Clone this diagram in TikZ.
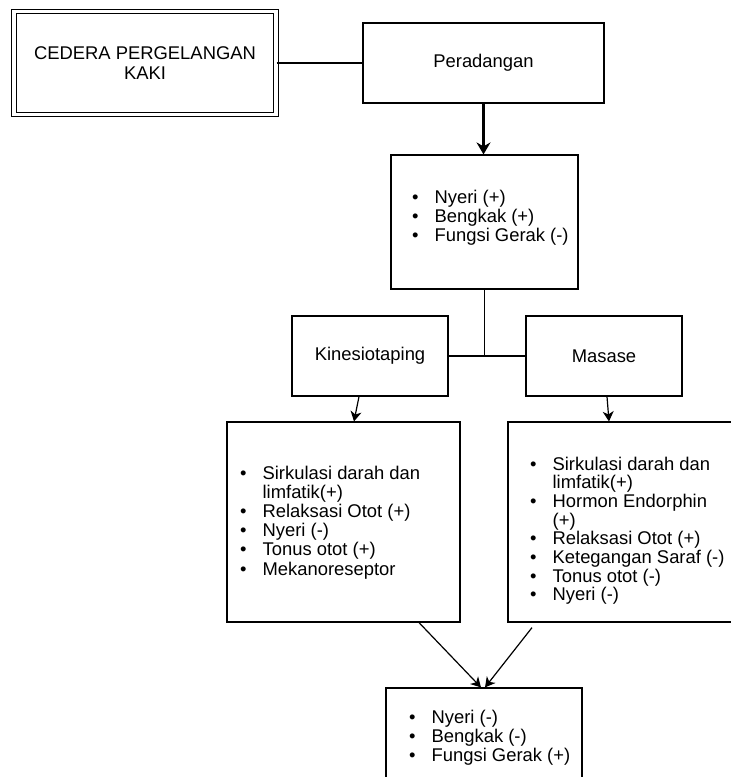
\documentclass[tikz,border=0pt]{standalone}
\usepackage{fontspec}
\setmainfont{Liberation Sans}
\usetikzlibrary{arrows.meta}

\newcommand{\bulletlist}[1]{\begin{tabular}[t]{@{}l@{\hspace{16pt}}l@{}}#1\end{tabular}}

\begin{document}
\begin{tikzpicture}
  [x=1pt,y=-1pt,
   every node/.style={font=\fontsize{18.4}{19.2}\selectfont},
   box/.style={draw=black,line width=1.2pt,rectangle,inner sep=0pt},
   listtext/.style={anchor=base west,inner sep=0pt},
   conn/.style={draw=black,line width=1.2pt},
   arrow/.style={conn,-{Stealth[length=10pt,width=11pt,inset=3pt]}}]

  \useasboundingbox (0,0) rectangle (731,777);
  \clip (0,0) rectangle (731,777);

  \node [box,double,double distance=3.3pt,line width=1pt,minimum width=262pt,
         minimum height=103.4pt,align=center] (cedera) at (145,63)
        {CEDERA PERGELANGAN\\KAKI};
  \node [box,minimum width=241pt,minimum height=80pt] (peradangan) at (483.5,63) {Peradangan};

  \node [box,minimum width=187pt,minimum height=134pt] (gejala) at (484.5,222) {};
  \node [listtext] (gejala-list) at (412,203)
        {\bulletlist{\textbullet & Nyeri (+)\\
                     \textbullet & Bengkak (+)\\
                     \textbullet & Fungsi Gerak (-)}};

  \node [box,minimum width=156pt,minimum height=80pt] (kinesio) at (370,356) {Kinesiotaping};
  \node [box,minimum width=156pt,minimum height=80pt] (masase) at (604,356) {Masase};

  \node [box,minimum width=233pt,minimum height=200pt] (efekkt) at (343.5,522) {};
  \node [listtext] (efekkt-list) at (240,479)
        {\bulletlist{\textbullet & Sirkulasi darah dan\\
                                 & limfatik(+)\\
                     \textbullet & Relaksasi Otot (+)\\
                     \textbullet & Nyeri (-)\\
                     \textbullet & Tonus otot (+)\\
                     \textbullet & Mekanoreseptor}};

  \node [box,minimum width=234pt,minimum height=200pt] (efekms) at (625,522) {};
  \node [listtext,font=\fontsize{18.4}{17.9}\selectfont] (efekms-list) at (530,470)
        {\bulletlist{\textbullet & Sirkulasi darah dan\\
                                 & limfatik(+)\\
                     \textbullet & Hormon Endorphin\\
                                 & (+)\\
                     \textbullet & Relaksasi Otot (+)\\
                     \textbullet & Ketegangan Saraf (-)\\
                     \textbullet & Tonus otot (-)\\
                     \textbullet & Nyeri (-)}};

  \node [box,minimum width=196pt,minimum height=134pt] (hasil) at (484,755) {};
  \node [listtext] (hasil-list) at (409,723)
        {\bulletlist{\textbullet & Nyeri (-)\\
                     \textbullet & Bengkak (-)\\
                     \textbullet & Fungsi Gerak (+)}};

  % connectors
  \draw [conn] (cedera) -- (peradangan);
  \draw [conn,line width=2.2pt,-{Stealth[length=12pt,width=14pt,inset=4pt]}]
        (peradangan.south) -- (peradangan.south |- gejala.north);
  \coordinate (split) at (gejala.south |- kinesio.east);
  \draw [conn] (gejala.south) -- (split);
  \draw [conn] (kinesio) -- (masase);

  \draw [arrow] ([xshift=-11pt]kinesio.south) -- ([xshift=10.5pt]efekkt.north);
  \draw [arrow] ([xshift=3pt]masase.south) -- ([xshift=-16pt]efekms.north);
  \draw [arrow] ([xshift=75.5pt]efekkt.south) -- ([xshift=-3pt]hasil.north);
  \draw [arrow] ([xshift=-93pt,yshift=-5pt]efekms.south) -- ([xshift=1pt]hasil.north);
\end{tikzpicture}
\end{document}
